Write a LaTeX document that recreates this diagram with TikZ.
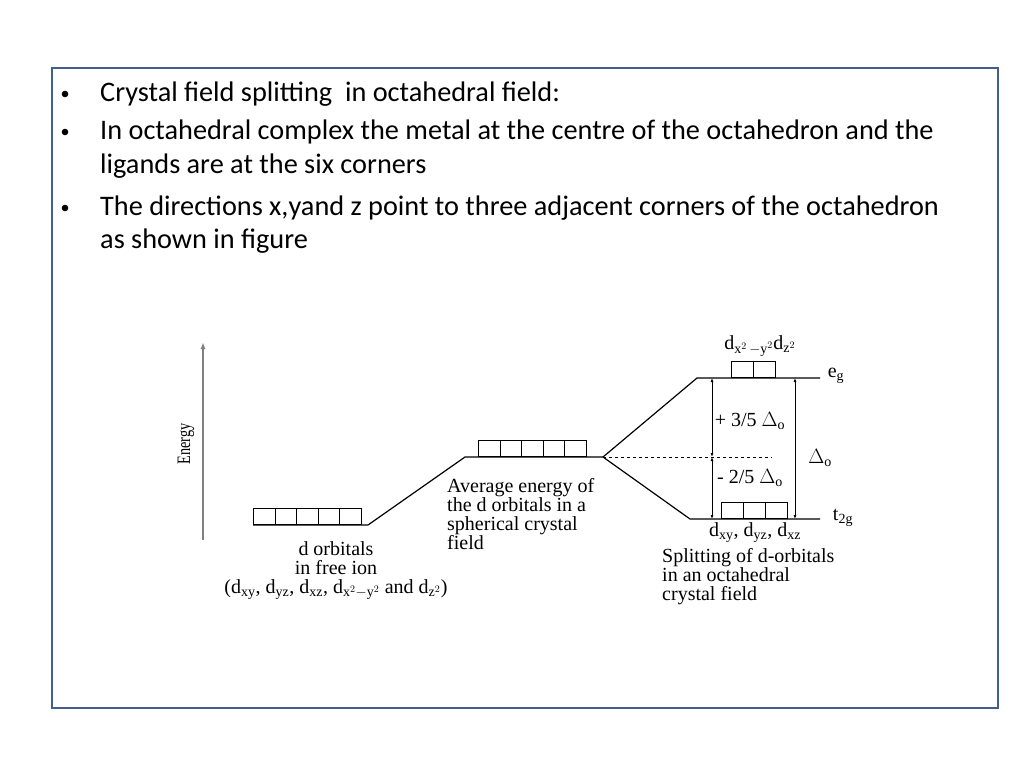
\documentclass[tikz,border=0pt]{standalone}
\usepackage{fontspec}
\setmainfont{Liberation Serif}
\newfontfamily\calfont{Carlito}
\usetikzlibrary{arrows.meta}
\begin{document}
\begin{tikzpicture}[x=1pt,y=-1pt,
  lvl/.style={line width=1.2pt},
  box/.style={draw,line width=1.1pt,minimum width=21.5pt,minimum height=16pt,inner sep=0pt,anchor=south west},
  lab/.style={font=\fontsize{20}{19}\selectfont,inner sep=0pt},
  bul/.style={font=\calfont\fontsize{28.3}{34}\selectfont,anchor=west,inner sep=0pt}]
\useasboundingbox (0,0) rectangle (1024,768);
\draw[color={rgb,255:red,65;green,95;blue,140},line width=2pt] (52,68) rectangle (998,708);
% bullets
\foreach \y in {94,132,208} \fill (65,\y) circle (3.3pt);
\node[bul] (t1) at (100,94) {Crystal field splitting\ \ in octahedral field:};
\node[bul] (t2) at (100,132) {In octahedral complex the metal at the centre of the octahedron and the};
\node[bul] (t3) at (100,166) {ligands are at the six corners};
\node[bul] (t4) at (100,208) {The directions x,yand z point to three adjacent corners of the octahedron};
\node[bul] (t5) at (100,241) {as shown in figure};
% energy axis
\draw[gray,line width=2pt,-{Latex[length=7pt,width=5pt]}] (203,540) -- (203,342);
\node[rotate=90,font=\fontsize{19}{18}\selectfont\addfontfeatures{FakeStretch=0.75}] (en) at (186,444) {Energy};
% free ion
\foreach \i in {0,...,4} \node[box] (f\i) at (253+21.5*\i,525) {};
\coordinate (a1) at (253,525); \coordinate (a2) at (368,525);
\coordinate (b1) at (465,457); \coordinate (b2) at (603,457);
\coordinate (c1) at (697,378); \coordinate (c2) at (820,378);
\coordinate (d1) at (690,519); \coordinate (d2) at (820,519);
\draw[lvl] (a1) -- (a2) -- (b1) -- (b2) -- (c1) -- (c2);
\draw[lvl] (b2) -- (d1) -- (d2);
\foreach \i in {0,...,4} \node[box] (s\i) at (478+21.5*\i,457) {};
\foreach \i in {0,1} \node[box] (e\i) at (731+22*\i,378) {};
\foreach \i in {0,1,2} \node[box] (g\i) at (721+22*\i,519) {};
\coordinate (m) at (712,457); \coordinate (mt) at (712,378); \coordinate (mb) at (712,519);
\draw[dashed,line width=0.8pt] (b2) -- (772,457);
\draw[line width=1pt,{Latex[length=4pt,width=3pt]}-{Latex[length=4pt,width=3pt]}] (mt) -- (m);
\draw[line width=1pt,{Latex[length=4pt,width=3pt]}-{Latex[length=4pt,width=3pt]}] (m) -- (mb);
\coordinate (rt) at (795,378); \coordinate (rb) at (795,519);
\draw[line width=1pt,{Latex[length=4pt,width=3pt]}-{Latex[length=4pt,width=3pt]}] (rt) -- (rb);
% labels
\node[lab] (eo) at (760,346) {d$_{\mathrm{x}^2\,\mathrm{-y}^2}$d$_{\mathrm{z}^2}$};
\node[lab] (eg) at (836,376) {e$_\mathrm{g}$};
\node[lab] (tg) at (843,518) {t$_\mathrm{2g}$};
\node[lab] (p35) at (750,421) {+ 3/5 $\Delta_\mathrm{o}$};
\node[lab] (m25) at (750,478) {- 2/5 $\Delta_\mathrm{o}$};
\node[lab] (do) at (820,458) {$\Delta_\mathrm{o}$};
\node[lab] (to) at (755,533) {d$_\mathrm{xy}$, d$_\mathrm{yz}$, d$_\mathrm{xz}$};
\node[lab,anchor=north west,align=left] (sp) at (662,548) {Splitting of d-orbitals\\in an octahedral\\crystal field};
\node[lab,anchor=north west,align=left] (av) at (447,478) {Average energy of\\the d orbitals in a\\spherical crystal\\field};
\node[lab,anchor=north,align=center] (fi) at (336,541) {d orbitals\\in free ion\\(d$_\mathrm{xy}$, d$_\mathrm{yz}$, d$_\mathrm{xz}$, d$_{\mathrm{x}^2\mathrm{-y}^2}$ and d$_{\mathrm{z}^2}$)};
\end{tikzpicture}
\end{document}
